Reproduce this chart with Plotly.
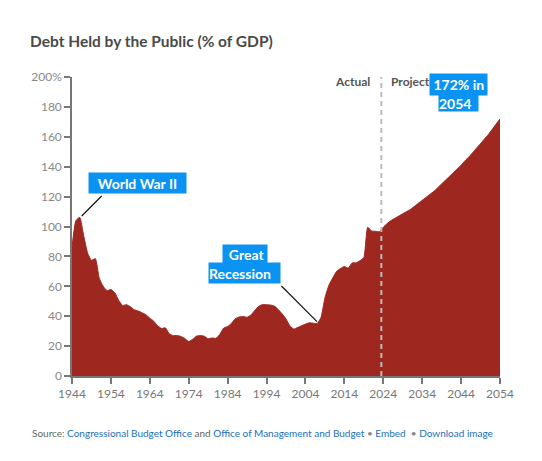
import plotly.graph_objects as go

# ---- data ----
years_actual = list(range(1944, 2024))
debt_actual = [
    86.1, 103.9, 106.1, 93.9, 82.4, 77.4, 78.5, 65.4, 60.1, 57.1,   # 1944-1953
    57.9, 55.7, 50.6, 47.2, 47.7, 46.4, 44.3, 43.5, 42.3, 41.0,     # 1954-1963
    38.7, 36.7, 33.7, 31.8, 32.2, 28.3, 27.0, 27.1, 26.4, 25.1,     # 1964-1973
    23.1, 24.5, 26.7, 27.1, 26.6, 24.9, 25.5, 25.2, 27.9, 32.1,     # 1974-1983
    33.1, 35.3, 38.4, 39.5, 39.8, 39.3, 40.8, 44.0, 46.6, 47.8,     # 1984-1993
    47.7, 47.5, 46.8, 44.5, 41.6, 38.2, 33.6, 31.4, 32.5, 33.6,     # 1994-2003
    34.7, 35.6, 35.3, 35.2, 39.2, 52.2, 60.6, 65.5, 70.0, 71.9,     # 2004-2013
    73.3, 72.2, 75.6, 75.7, 77.1, 79.2, 99.5, 97.0, 96.8, 96.5,     # 2014-2023
]
years_projected = list(range(2024, 2055))
debt_projected = [
    99.5, 102.0, 104.0, 105.5, 107.0, 108.5, 110.0, 111.5, 113.5, 115.5,
    117.5, 119.5, 121.5, 123.5, 126.0, 128.5, 131.0, 133.5, 136.0, 138.5,
    141.0, 144.0, 146.5, 149.5, 152.5, 155.5, 158.5, 161.5, 165.0, 168.5,
    172.0,
]
x_ticks = list(range(1944, 2055, 10))
y_ticks = list(range(0, 201, 20))
y_tick_text = [f"{v}%" if v == 200 else str(v) for v in y_ticks]
split_year = 2023.5

title = "Debt Held by the Public (% of GDP)"
RED = "#9e2820"
BLUE = "#0a93f2"
LINK = "#1b6fb8"
GRAY = "#777777"

# the page places the figure 8px from the top-left corner of the window
OFF = 8
SW, SH = 542, 461                 # window size
W, H = SW - OFF, SH - OFF         # figure size
# plot area in window pixels
PL, PR, PT, PB = 72, 500.5, 77, 376
ML, MR, MT, MB = PL - OFF, W - (PR - OFF), PT - OFF, H - (PB - OFF)
PW, PH = PR - PL, PB - PT


def px(x):
    return (x - PL) / PW


def py(y):
    return (PB - y) / PH


years = years_actual + years_projected
debt = debt_actual + debt_projected

fig = go.Figure()
fig.add_trace(go.Scatter(
    x=years, y=debt, mode="lines", fill="tozeroy",
    fillcolor=RED, line=dict(color=RED, width=1, shape="spline", smoothing=0.5),
    hoverinfo="x+y", showlegend=False,
))

font = "Lato, 'Open Sans', sans-serif"

shapes = [
    dict(type="line", xref="x", yref="paper", x0=split_year, x1=split_year, y0=0, y1=1,
         line=dict(color="#bbbbbb", width=2, dash="5px,4px")),
    dict(type="line", xref="paper", yref="paper", x0=px(101.7), y0=py(196), x1=px(81.7), y1=py(216),
         line=dict(color="#111111", width=1.2)),
    dict(type="line", xref="paper", yref="paper", x0=px(281.7), y0=py(286), x1=px(317.3), y1=py(321.7),
         line=dict(color="#111111", width=1.2)),
]

ann = []


def box(text, x0, x1, y0, y1, align="center"):
    ann.append(dict(
        xref="paper", yref="paper", x=px((x0 + x1) / 2), y=py((y0 + y1) / 2),
        xanchor="center", yanchor="middle", text=f"<b>{text}</b>", showarrow=False,
        width=x1 - x0, height=y1 - y0, borderpad=0, bgcolor=BLUE, align=align,
        font=dict(family=font, size=14, color="white"),
    ))


box("World War II", 89, 186, 173, 193)
box("Great&nbsp;", 223, 267, 245, 263, align="right")
box("Recession", 209, 280, 263, 283, align="left")

ann.append(dict(xref="paper", yref="paper", x=px(372.7), y=py(81), xanchor="right", yanchor="middle",
                text="<b>Actual</b>", showarrow=False, font=dict(family=font, size=12, color="#555555")))
ann.append(dict(xref="paper", yref="paper", x=px(389.3), y=py(81), xanchor="left", yanchor="middle",
                text="<b>Projected</b>", showarrow=False, font=dict(family=font, size=12, color="#555555")))

box("&nbsp;172% in", 430, 487, 74, 95, align="left")
box("2054", 439, 478, 95, 111, align="left")

source = (f"<span style='color:#666666'>Source: </span>"
          f"<span style='color:{LINK}'>Congressional Budget Office</span>"
          f"<span style='color:#666666'> and </span>"
          f"<span style='color:{LINK}'>Office of Management and Budget</span>"
          f"<span style='color:#888888'> • </span>"
          f"<span style='color:{LINK}'>Embed</span>"
          f"<span style='color:#888888'>  • </span>"
          f"<span style='color:{LINK}'>Download image</span>")
ann.append(dict(xref="paper", yref="paper", x=px(30), y=py(433), xanchor="left", yanchor="middle",
                text=source, showarrow=False, font=dict(family=font, size=10)))

fig.update_layout(
    width=W, height=H, autosize=False,
    margin=dict(l=ML, r=MR, t=MT, b=MB, pad=0),
    paper_bgcolor="white", plot_bgcolor="white",
    title=dict(text=f"<b>{title}</b>", x=(30 - OFF) / W, xanchor="left",
               y=1 - (42 - OFF) / H, yanchor="middle",
               font=dict(family=font, size=15.5, color="#4a4a4a")),
    shapes=shapes, annotations=ann,
    xaxis=dict(range=[1944, 2054], tickvals=x_ticks, showgrid=False, zeroline=False,
               showline=True, linecolor=GRAY, linewidth=1.5, ticks="outside", ticklen=6,
               tickcolor=GRAY, tickwidth=1.5, tickfont=dict(family=font, size=12, color=GRAY)),
    yaxis=dict(range=[0, 200], tickvals=y_ticks, ticktext=y_tick_text, showgrid=False, zeroline=False,
               showline=True, linecolor=GRAY, linewidth=1.5, ticks="outside", ticklen=6,
               tickcolor=GRAY, tickwidth=1.5, tickfont=dict(family=font, size=12, color="#888888")),
)

fig.write_html("out.html")
